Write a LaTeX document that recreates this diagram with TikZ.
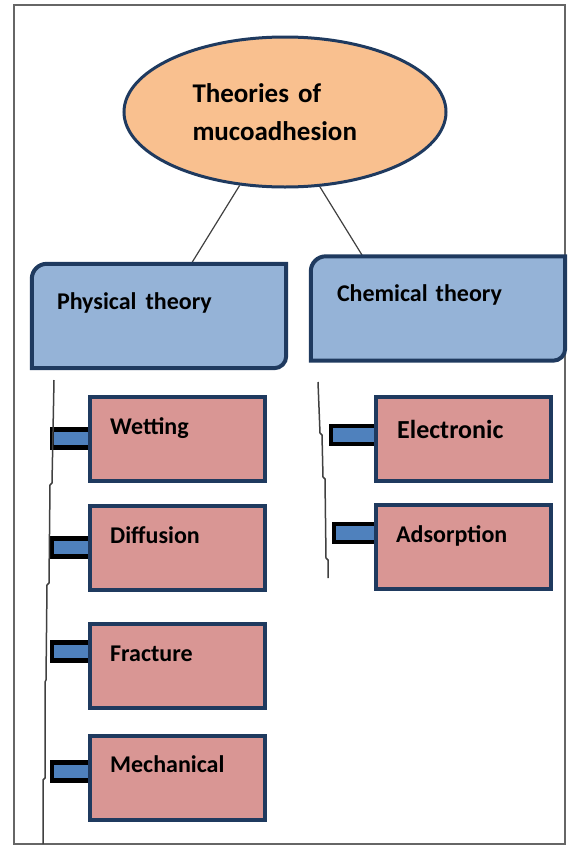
\documentclass[tikz,border=0pt]{standalone}
\usepackage{fontspec}
\setmainfont{Carlito}
\usetikzlibrary{shapes.geometric,positioning,backgrounds,calc}

\definecolor{edgeblue}{HTML}{1F3A5F}
\definecolor{titlefill}{HTML}{F9C08F}
\definecolor{theoryfill}{HTML}{95B3D7}
\definecolor{typefill}{HTML}{D99694}
\definecolor{stubfill}{HTML}{4F81BD}
\definecolor{framegray}{HTML}{666666}
\definecolor{linkgray}{HTML}{404040}

\begin{document}
\begin{tikzpicture}[x=1pt, y=1pt,
    title/.style={ellipse, draw=edgeblue, line width=3pt, fill=titlefill,
      minimum width=322pt, minimum height=150pt, align=left, text width=185pt,
      font=\fontsize{27}{38}\selectfont\bfseries},
    theory/.style={rectangle, minimum width=254pt, minimum height=104pt, inner sep=0pt},
    theorybox/.style={draw=edgeblue, line width=4pt, fill=theoryfill},
    typebox/.style={rectangle, draw=edgeblue, line width=4pt, fill=typefill,
      minimum width=175pt, minimum height=84pt, inner sep=0pt},
    stub/.style={rectangle, draw=black, line width=4.5pt, fill=stubfill,
      minimum height=18pt, inner sep=0pt, outer sep=0pt},
    link/.style={draw=linkgray, line width=1.2pt},
    trunk/.style={draw=linkgray, line width=1.5pt},
    lbl/.style={anchor=base west, inner sep=0pt, font=\fontsize{24}{28}\selectfont\bfseries},
    every node/.style={text=black}
  ]
  \useasboundingbox (0,0) rectangle (568,-846);
  \draw[framegray, line width=2pt] (14,-5) rectangle (565,-844);

  \node[title] (title) at (285,-112) {Theories of\\mucoadhesion};
  \node[theory] (phys) at (159,-316) {};
  \node[theory] (chem) at (438,-308.5) {};

  \draw[link] (title) -- (phys);
  \draw[link] (title.-65) -- ([xshift=52pt]chem.north west);

  \draw[theorybox] ([yshift=-15pt]phys.north west) arc[start angle=180, end angle=90, radius=15pt]
    -- (phys.north east) -- ([yshift=12pt]phys.south east) arc[start angle=0, end angle=-90, radius=12pt]
    -- (phys.south west) -- cycle;
  \draw[theorybox] ([yshift=-15pt]chem.north west) arc[start angle=180, end angle=90, radius=15pt]
    -- (chem.north east) -- ([yshift=12pt]chem.south east) arc[start angle=0, end angle=-90, radius=12pt]
    -- (chem.south west) -- cycle;
  \node[lbl] (physlbl) at ([xshift=25pt, yshift=-46pt]phys.north west) {Physical\hspace{9pt}theory};
  \node[lbl] (chemlbl) at ([xshift=26pt, yshift=-45pt]chem.north west) {Chemical\hspace{8pt}theory};

  \node[typebox] (wet) at (177.5,-438.5) {};
  \node[typebox, below=21pt of wet] (diff) {};
  \node[typebox, below=30pt of diff] (frac) {};
  \node[typebox, below=24pt of frac] (mech) {};
  \node[typebox] (elec) at (463.5,-439) {};
  \node[typebox, below=20pt of elec] (adso) {};

  \node[lbl] (wetlbl) at ([xshift=22pt, yshift=-40pt]wet.north west) {Wetting};
  \node[lbl] (difflbl) at ([xshift=22pt, yshift=-40pt]diff.north west) {Diffusion};
  \node[lbl] (fraclbl) at ([xshift=22pt, yshift=-40pt]frac.north west) {Fracture};
  \node[lbl] (mechlbl) at ([xshift=22pt, yshift=-39pt]mech.north west) {Mechanical};
  \node[lbl, font=\fontsize{26}{30}\selectfont\bfseries] (eleclbl) at ([xshift=23pt, yshift=-43pt]elec.north west) {Electronic};
  \node[lbl] (adsolbl) at ([xshift=22pt, yshift=-39pt]adso.north west) {Adsorption};

  \begin{scope}[on background layer]
    \node[stub, minimum width=38pt, anchor=east] (wetstub) at ([xshift=2pt]wet.west) {};
    \node[stub, minimum width=38pt, anchor=east] (diffstub) at ([xshift=2pt]diff.west) {};
    \node[stub, minimum width=38pt, anchor=east] (fracstub) at ([xshift=2pt, yshift=14pt]frac.west) {};
    \node[stub, minimum width=38pt, anchor=east] (mechstub) at ([xshift=2pt, yshift=6pt]mech.west) {};
    \node[stub, minimum width=45pt, anchor=east] (elecstub) at ([xshift=2pt, yshift=4pt]elec.west) {};
    \node[stub, minimum width=42pt, anchor=east] (adsostub) at ([xshift=2pt, yshift=14pt]adso.west) {};
  \end{scope}

  \coordinate (ltop) at (54,-380);
  \coordinate (lbot) at (43,-844);
  \coordinate (rtop) at (318,-382);
  \coordinate (rbot) at (328,-578);
  \draw[trunk] (ltop) -- (52,-483) -- (50,-485) -- (49,-583) -- (47,-585) -- (46,-680)
    -- (45,-682) -- (45,-778) -- (43,-780) -- (lbot);
  \draw[trunk] (rtop) -- (320,-433) -- (322,-435) -- (323,-477) -- (325,-479) -- (326,-558)
    -- (328,-560) -- (rbot);
\end{tikzpicture}
\end{document}
